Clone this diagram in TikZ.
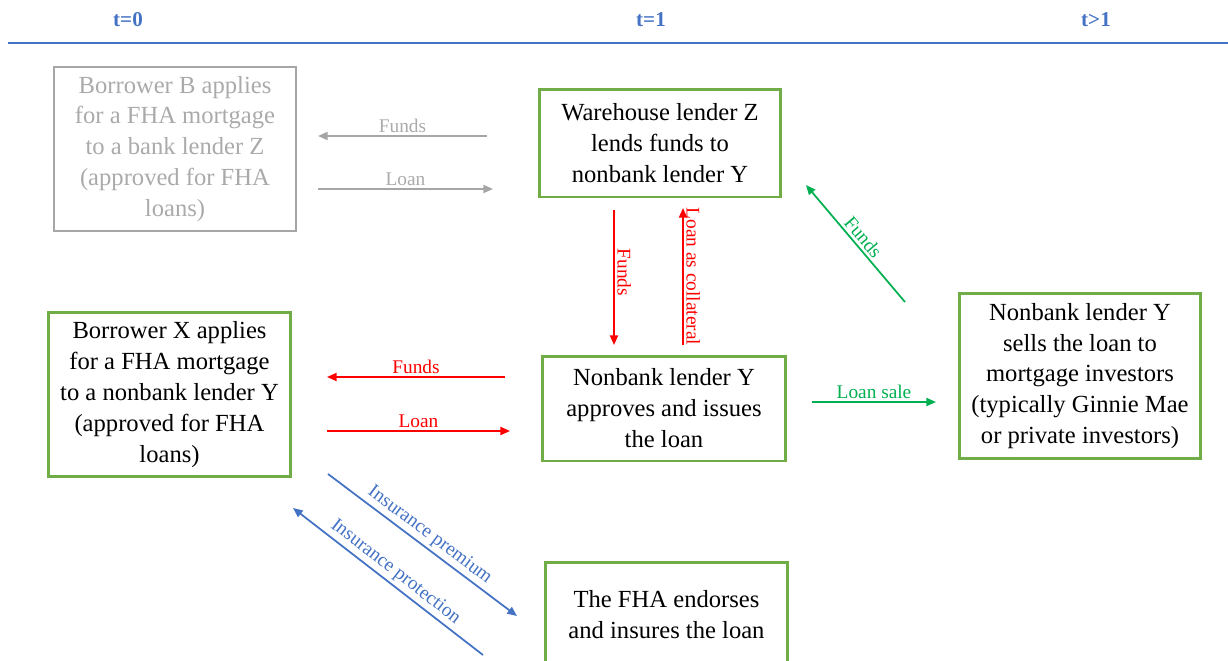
\documentclass[tikz,border=0pt]{standalone}
\usepackage{fontspec}
\setmainfont{Liberation Serif}
\usepackage{tikz}
\usetikzlibrary{arrows,arrows.meta}
\definecolor{boxgreen}{RGB}{112,173,71}
\definecolor{arrgreen}{RGB}{0,176,80}
\definecolor{arrblue}{RGB}{68,114,196}
\definecolor{lightgray}{RGB}{166,166,166}
\definecolor{textgray}{RGB}{170,170,170}
\tikzset{
  stepbox/.style={draw=boxgreen, line width=1.7pt, align=center, minimum width=4.84cm,
    font=\fontsize{14}{17.6}\selectfont, text=black},
  oldbox/.style={draw=lightgray, line width=0.8pt, align=center, minimum width=4.84cm,
    font=\fontsize{14}{17.6}\selectfont, text=textgray},
  flow/.style={line width=1pt, >={Triangle[length=5.5pt,width=4.6pt]}},
  flowlabel/.style={font=\fontsize{11}{13}\selectfont, inner sep=1.5pt},
  period/.style={font=\bfseries\fontsize{12}{14}\selectfont, text=arrblue}
}
\begin{document}
\begin{tikzpicture}[x=0.02cm, y=-0.02cm]
\useasboundingbox (0,0) rectangle (1228,660);
			\node[period] (t0) at (128,20) {t=0};
			\node[period] (t1) at (651,20) {t=1};
			\node[period] (t2) at (1096,20) {t>1};
			\coordinate (axisL) at (8,43);
			\coordinate (axisR) at (1228,43);
			\draw[arrblue, line width=1.2pt] (axisL) -- (axisR);
				\node[oldbox, minimum height=3.28cm] (boxB) at (175,149) {Borrower B applies\\for a FHA mortgage\\to a bank lender Z\\(approved for FHA\\loans)};
				\node[stepbox, minimum height=2.16cm] (boxZ) at (660,143) {Warehouse lender Z\\lends funds to\\nonbank lender Y};
				\node[stepbox, minimum height=3.3cm] (boxX) at (169.5,394.5) {Borrower X applies\\for a FHA mortgage\\to a nonbank lender Y\\(approved for FHA\\loans)};
				\node[stepbox, minimum height=2.1cm, minimum width=4.88cm] (boxY) at (664,408.5) {Nonbank lender Y\\approves and issues\\the loan};
				\node[stepbox, minimum height=3.32cm] (boxInv) at (1080,376) {Nonbank lender Y\\sells the loan to\\mortgage investors\\(typically Ginnie Mae\\or private investors)};
				\node[stepbox, minimum height=2.1cm, minimum width=4.86cm] (boxFHA) at (666.5,615) {The FHA endorses\\and insures the loan};
			\coordinate (bFundsS) at (487,136);
			\coordinate (bFundsE) at (318,136);
			\coordinate (bLoanS) at (318,189);
			\coordinate (bLoanE) at (493,189);
			\draw[flow, ->, lightgray] (bFundsS) -- node[flowlabel, above, text=textgray] {Funds} (bFundsE);
			\draw[flow, ->, lightgray] (bLoanS) -- node[flowlabel, above, text=textgray] {Loan} (bLoanE);
			\coordinate (zFundsS) at (614,210);
			\coordinate (zFundsE) at (614,345);
			\coordinate (zCollS) at (683,345);
			\coordinate (zCollE) at (683,208);
			\draw[flow, ->, red] (zFundsS) -- node[flowlabel, rotate=-90, anchor=south, xshift=-3pt] {Funds} (zFundsE);
			\draw[flow, ->, red] (zCollS) -- node[flowlabel, rotate=-90, anchor=south] {Loan as collateral} (zCollE);
			\coordinate (xFundsS) at (505,377);
			\coordinate (xFundsE) at (327,377);
			\coordinate (xLoanS) at (327,431);
			\coordinate (xLoanE) at (510,431);
			\draw[flow, ->, red] (xFundsS) -- node[flowlabel, above] {Funds} (xFundsE);
			\draw[flow, ->, red] (xLoanS) -- node[flowlabel, above] {Loan} (xLoanE);
			\coordinate (saleS) at (812,402);
			\coordinate (saleE) at (936,402);
			\coordinate (invFundsE) at (806,185);
			\coordinate (invFundsS) at (905,302);
			\draw[flow, ->, arrgreen] (saleS) -- node[flowlabel, above] {Loan sale} (saleE);
			\draw[flow, <-, arrgreen] (invFundsE) -- node[flowlabel, sloped, above] {Funds} (invFundsS);
			\coordinate (premS) at (328,474);
			\coordinate (premE) at (517,616);
			\coordinate (protE) at (293,508);
			\coordinate (protS) at (483,655);
			\draw[flow, ->, arrblue] (premS) -- node[flowlabel, sloped, above] {Insurance premium} (premE);
			\draw[flow, <-, arrblue] (protE) -- node[flowlabel, sloped, above] {Insurance protection} (protS);
\end{tikzpicture}
\end{document}
